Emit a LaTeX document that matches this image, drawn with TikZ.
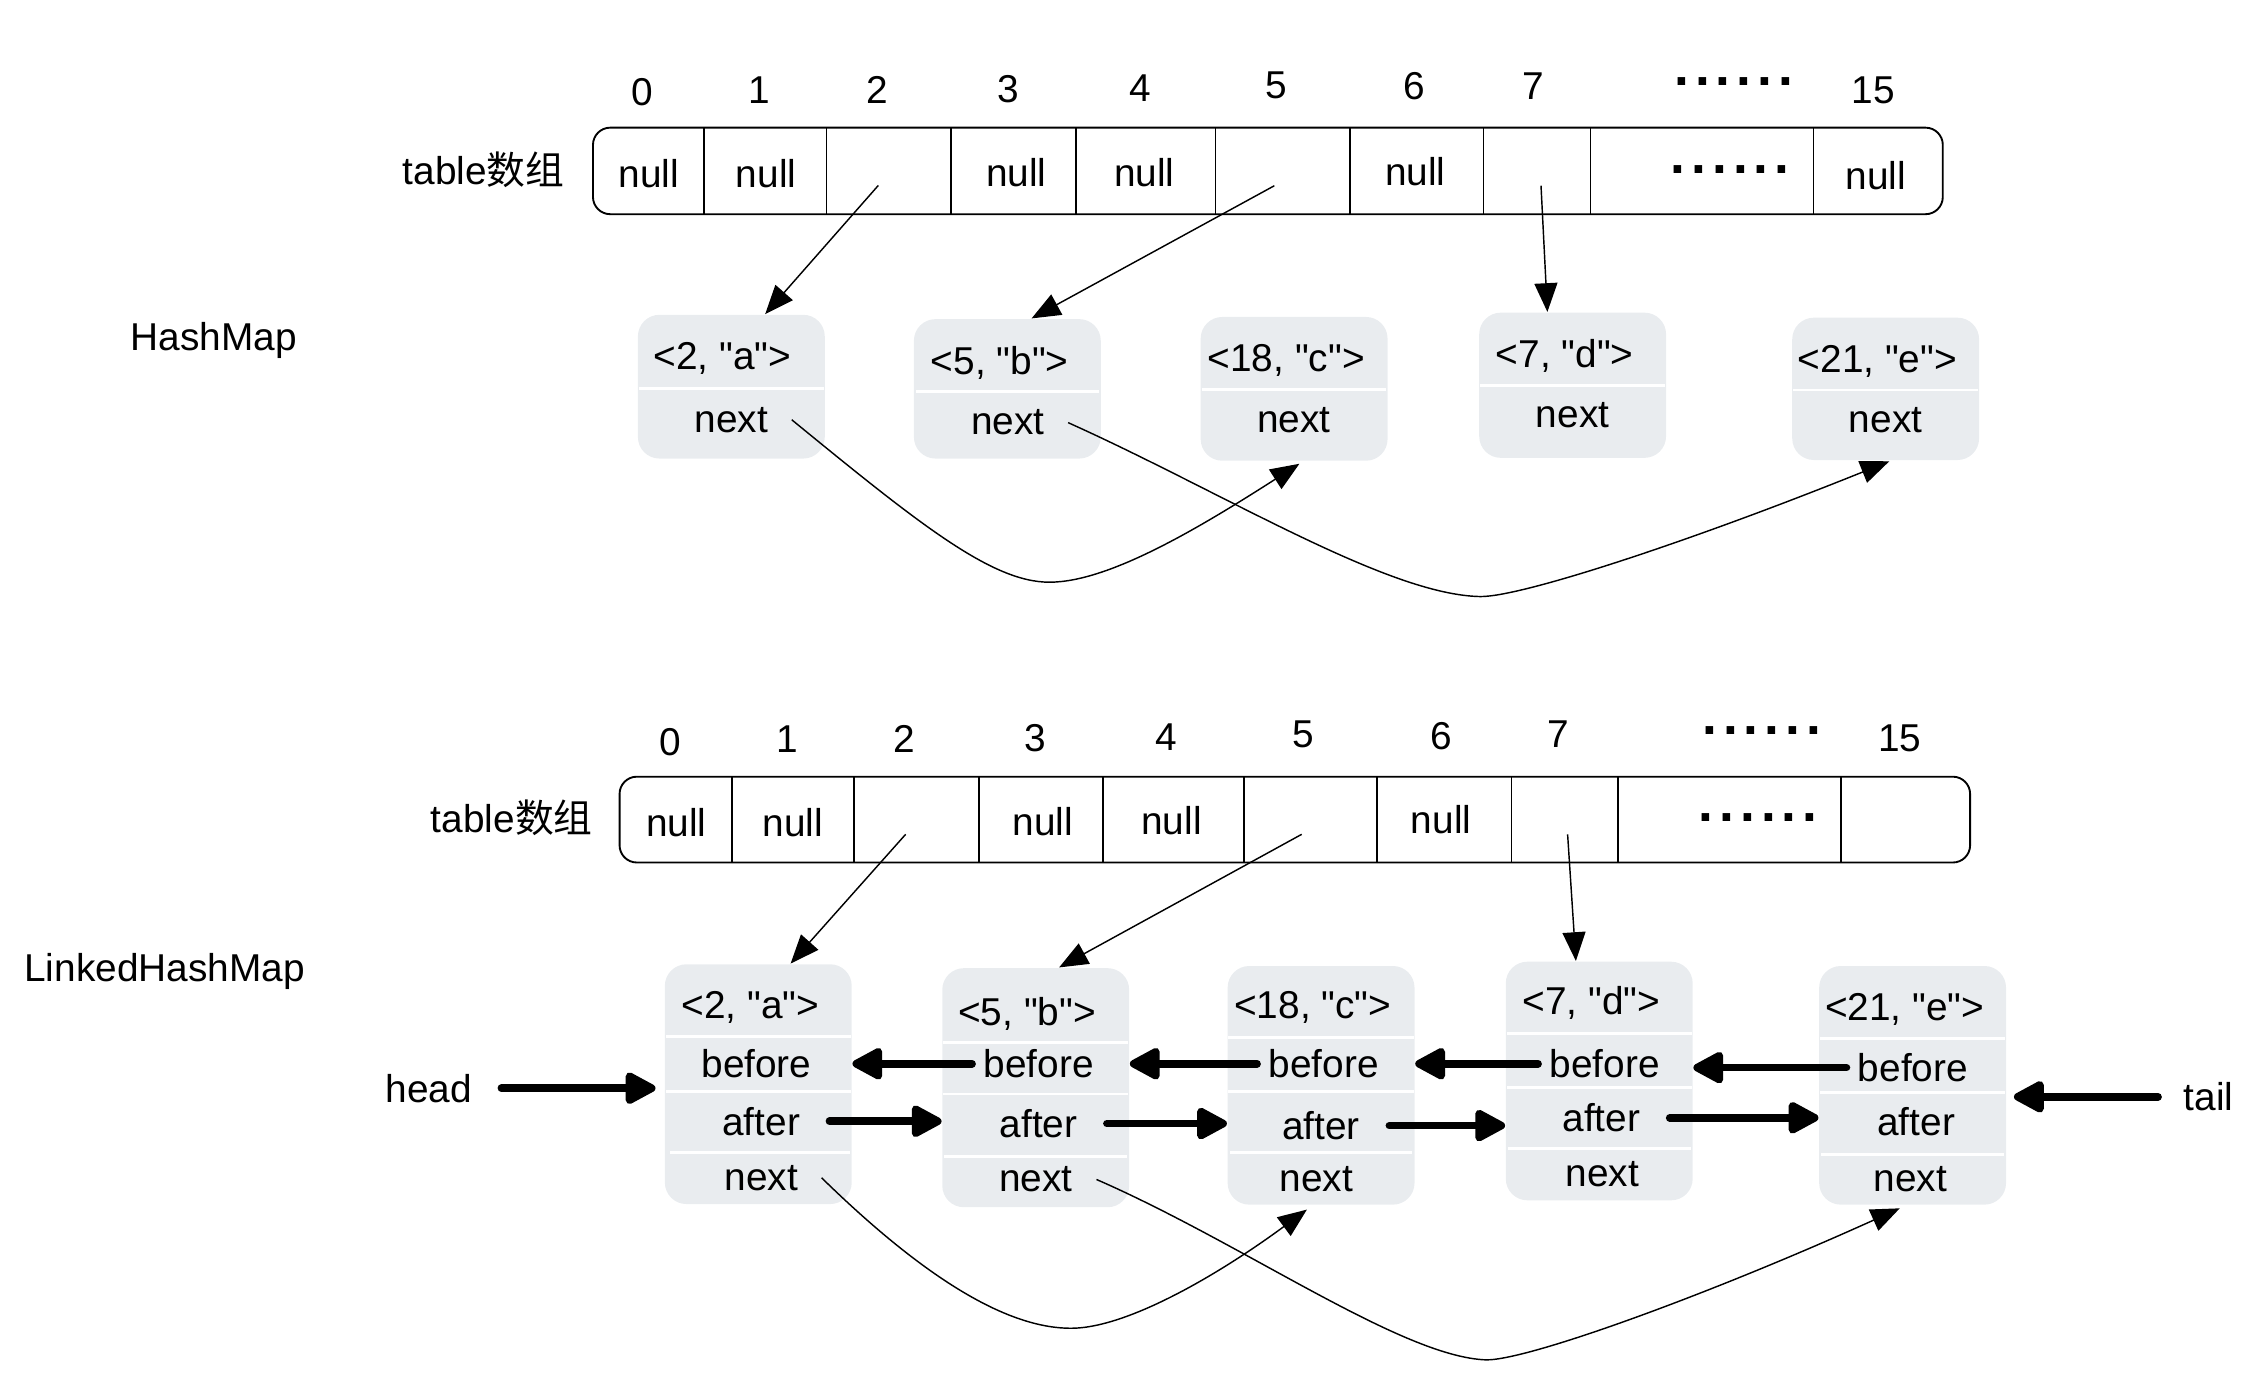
\documentclass[tikz,border=0pt]{standalone}
\usepackage{fontspec}
\setmainfont{Liberation Sans}
\newfontfamily\cjk{Noto Sans CJK SC}
\usepackage{tikz}
\usetikzlibrary{arrows.meta}
\definecolor{entrygray}{RGB}{233,236,239}
\newcommand{\bigtxt}{\fontsize{27pt}{32pt}\selectfont}
\newcommand{\q}{\textquotedbl}
\newcommand{\sixdots}{{\fontsize{37pt}{40pt}\selectfont\bfseries .\kern4.2pt.\kern4.2pt.\kern4.2pt.\kern4.2pt.\kern4.2pt.}}
\tikzset{
  entrybox/.style={fill=entrygray, rounded corners=15pt, minimum width=130pt, inner sep=0pt},
  rowsep/.style={draw=white, line width=2pt},
  tablebox/.style={draw, line width=1.3pt, rounded corners=12pt},
  thickarr/.style={line width=5.3pt, line cap=round, -{Triangle[length=24pt,width=24pt,round]}},
  nexttxt/.style={inner xsep=16pt},
  beforetxt/.style={inner xsep=7.5pt},
  aftertxt/.style={inner xsep=20pt},
}

\begin{document}
\begin{tikzpicture}[>={Triangle[length=20pt,width=16pt]}, x=1pt, y=-1pt, line width=1pt,
    every node/.style={font=\bigtxt, inner sep=0pt}]
  \useasboundingbox (0,0) rectangle (1568,960.7);

  % ---------- HashMap ----------
  \node (TL) at (336.5,117.9) {table{\cjk 数组}};
  \node (HM) at (148.75,237) {HashMap};
  \node (I0) at (446.5,64) {0};
  \node (I1) at (528.5,63) {1};
  \node (I2) at (610,62.8) {2};
  \node (I3) at (701.5,62) {3};
  \node (I4) at (793,61) {4};
  \node (I5) at (888,59.7) {5};
  \node (I6) at (984,60) {6};
  \node (I7) at (1066.5,60) {7};
  \node (Id) at (1206,56.6) {\sixdots};
  \node (I15) at (1303,62.8) {15};
  \draw[tablebox] (412.5,88.8) rectangle (1351.5,149);
  \draw[line width=1.2pt] (489.5,88.8) -- (489.5,149) (575,88.8) -- (575,149)
    (661.5,88.8) -- (661.5,149) (748.5,88.8) -- (748.5,149) (845.5,88.8) -- (845.5,149)
    (939,88.8) -- (939,149) (1032,88.8) -- (1032,149) (1106.5,88.8) -- (1106.5,149)
    (1261.5,88.8) -- (1261.5,149);
  \node (C0) at (451.5,121) {null};
  \node (C1) at (533,121) {null};
  \node (C3) at (707,120) {null};
  \node (C4) at (796,120) {null};
  \node (C6) at (984.5,119.4) {null};
  \node (Cd) at (1203.5,117.9) {\sixdots};
  \node (C15) at (1305,121.9) {null};
  \coordinate (T2) at (611,129);
  \coordinate (T5) at (886.5,129.2);
  \coordinate (T7) at (1072,129.2);

  \node[entrybox, minimum height=100pt] (H2) at (508.75,269) {};
  \node[entrybox, minimum height=97pt] (H5) at (700.75,270.5) {};
  \node[entrybox, minimum height=100pt] (H18) at (900.25,270.5) {};
  \node[entrybox, minimum height=101pt] (H7) at (1094,268) {};
  \node[entrybox, minimum height=99pt] (H21) at (1311.75,270.5) {};
  \draw[rowsep] (444.5,270) -- (573,270);
  \draw[rowsep] (637,272.5) -- (764.5,272.5);
  \draw[rowsep] (836,271) -- (964.5,271);
  \draw[rowsep] (1029.5,268) -- (1158.5,268);
  \draw[rowsep] (1247.5,271.3) -- (1376,271.3);
  \node (H2k) at (502.5,249.5) {<2, \q a\q>};
  \node (H5k) at (695.5,252.6) {<5, \q b\q>};
  \node (H18k) at (894.75,251) {<18, \q c\q>};
  \node (H7k) at (1088.5,247.4) {<7, \q d\q>};
  \node (H21k) at (1306,251.7) {<21, \q e\q>};
  \node[nexttxt] (H2n) at (508.75,292) {next};
  \node[nexttxt] (H5n) at (701,294) {next};
  \node[nexttxt] (H18n) at (900,292) {next};
  \node[nexttxt] (H7n) at (1094,289) {next};
  \node[nexttxt] (H21n) at (1311.75,292.4) {next};

  \draw[->] (T2) -- (H2.65);
  \draw[->] (T5) -- (H5.71);
  \draw[->] (T7) -- (H7.109);
  \draw[->, shorten >=3pt] (H2n.east) .. controls (640,365) and (690,405) .. (730,405)
    .. controls (770,405) and (830,370) .. (H18.-83);
  \draw[->, shorten >=1pt] (H5n.east) .. controls (850,342) and (965,414) .. (1030,415)
    .. controls (1060,415) and (1180,375) .. (H21.-86);

  % ---------- LinkedHashMap ----------
  \node (TL2) at (356,568.8) {table{\cjk 数组}};
  \node (LHM) at (114.5,676) {LinkedHashMap};
  \node (J0) at (466,516) {0};
  \node (J1) at (547.5,514.5) {1};
  \node (J2) at (629,514.3) {2};
  \node (J3) at (720.5,513.5) {3};
  \node (J4) at (811.5,513) {4};
  \node (J5) at (906.5,510.6) {5};
  \node (J6) at (1002.5,511.8) {6};
  \node (J7) at (1084,511) {7};
  \node (Jd) at (1225.5,508) {\sixdots};
  \node (J15) at (1321.5,513.7) {15};
  \draw[tablebox] (431,540.3) rectangle (1370.5,600);
  \draw[line width=1.2pt] (509,540.3) -- (509,600) (594,540.3) -- (594,600)
    (681,540.3) -- (681,600) (767.5,540.3) -- (767.5,600) (865.5,540.3) -- (865.5,600)
    (958,540.3) -- (958,600) (1051.5,540.3) -- (1051.5,600) (1125.5,540.3) -- (1125.5,600)
    (1280.5,540.3) -- (1280.5,600);
  \node (D0) at (470.5,572) {null};
  \node (D1) at (551.5,572) {null};
  \node (D3) at (725.5,571.5) {null};
  \node (D4) at (815,570.8) {null};
  \node (D6) at (1002.5,570.3) {null};
  \node (Dd) at (1223,568.8) {\sixdots};
  \coordinate (S2) at (630,580.4);
  \coordinate (S5) at (905.5,580.4);
  \coordinate (S7) at (1090.5,580.4);

  \node[entrybox, minimum height=166.8pt] (L2) at (527.5,754.2) {};
  \node[entrybox, minimum height=166.3pt] (L5) at (720.5,756.65) {};
  \node[entrybox, minimum height=166pt] (L18) at (919,755) {};
  \node[entrybox, minimum height=166pt] (L7) at (1112.5,752) {};
  \node[entrybox, minimum height=166pt] (L21) at (1330.5,755) {};
  \draw[rowsep] (463,721.3) -- (592,721.3) (463,759.2) -- (592,759.2) (466,801.5) -- (591,801.5);
  \draw[rowsep] (656,725) -- (785,725) (656,761) -- (785,761) (657,804.6) -- (784,804.6);
  \draw[rowsep] (854.5,722) -- (983.5,722) (854.5,759) -- (983.5,759) (855.5,802) -- (982.5,802);
  \draw[rowsep] (1048,719) -- (1177,719) (1048,756.5) -- (1177,756.5) (1049,799) -- (1176,799);
  \draw[rowsep] (1266,722.5) -- (1395,722.5) (1266,760) -- (1395,760) (1267,803) -- (1394,803);
  \node (L2k) at (522,701) {<2, \q a\q>};
  \node (L5k) at (714.5,705) {<5, \q b\q>};
  \node (L18k) at (913.25,701) {<18, \q c\q>};
  \node (L7k) at (1107,698) {<7, \q d\q>};
  \node (L21k) at (1325,702) {<21, \q e\q>};
  \node[beforetxt] (L2b) at (526.25,739.6) {before};
  \node[beforetxt] (L5b) at (722.5,740) {before};
  \node[beforetxt] (L18b) at (920.75,740) {before};
  \node[beforetxt] (L7b) at (1116.25,740) {before};
  \node[beforetxt] (L21b) at (1330.75,742.7) {before};
  \node[aftertxt] (L2a) at (529.5,780) {after};
  \node[aftertxt] (L5a) at (722.5,781.6) {after};
  \node[aftertxt] (L18a) at (919,783) {after};
  \node[aftertxt] (L7a) at (1114,777.6) {after};
  \node[aftertxt] (L21a) at (1333,780) {after};
  \node[nexttxt] (L2n) at (529.5,819.3) {next};
  \node[nexttxt] (L5n) at (720.75,820.5) {next};
  \node[nexttxt] (L18n) at (915.75,820) {next};
  \node[nexttxt] (L7n) at (1114.75,816.8) {next};
  \node[nexttxt] (L21n) at (1329,820) {next};
  \node[inner xsep=20pt] (head) at (298.25,757) {head};
  \node[inner xsep=17.5pt] (tail) at (1536.5,763) {tail};

  \draw[->] (S2) -- (L2.75);
  \draw[->] (S5) -- (L5.79);
  \draw[->] (S7) -- (L7.101);
  \draw[->, shorten >=5pt] (L2n.east) .. controls (650,896) and (705,924) .. (745,924)
    .. controls (785,924) and (850,885) .. (L18.-94);
  \draw[->, shorten >=5pt] (L5n.east) .. controls (865,865) and (975,944) .. (1034,946)
    .. controls (1064,946) and (1190,900) .. (L21.-93);

  \draw[thickarr, shorten >=6pt] (head.east) -- (head.east -| L2.west);
  \draw[thickarr, shorten >=5pt] (tail.west) -- (tail.west -| L21.east);
  \draw[thickarr] (L5b.west) -- (L5b.west -| L2.east);
  \draw[thickarr] (L18b.west) -- (L18b.west -| L5.east);
  \draw[thickarr] (L7b.west) -- (L7b.west -| L18.east);
  \draw[thickarr] (L21b.west) -- (L21b.west -| L7.east);
  \draw[thickarr] (L2a.east) -- (L2a.east -| L5.west);
  \draw[thickarr] (L5a.east) -- (L5a.east -| L18.west);
  \draw[thickarr] (L18a.east) -- (L18a.east -| L7.west);
  \draw[thickarr] (L7a.east) -- (L7a.east -| L21.west);
\end{tikzpicture}
\end{document}
